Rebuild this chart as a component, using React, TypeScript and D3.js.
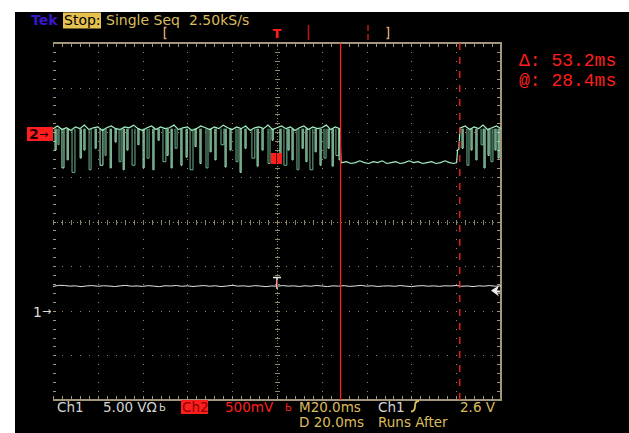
import React from 'react';
import * as d3 from 'd3';

// ---------- data ----------
const timeDomain: [number, number] = [-100, 100]; // ms, 20 ms/div
const divDomain: [number, number] = [-4, 4];
const ch1VoltsPerDiv = 5;
const ch2VoltsPerDiv = 0.5;
const ch1Position = -2; // divisions
const ch2Position = 2;
const cursorTime = 28.4; // ms
const cursorDelta = 53.2; // ms
const triggerLevel = 2.6; // V

const ch1Start = -100;
const ch1Step = 2.5;
const ch1Volts = [
  2.72, 2.85, 2.83, 2.76, 2.79, 2.7, 2.78, 2.82, 2.74, 2.8, 2.77, 2.71, 2.79, 2.84, 2.75, 2.78,
  2.73, 2.81, 2.76, 2.7, 2.8, 2.77, 2.83, 2.74, 2.79, 2.72, 2.78, 2.82, 2.75, 2.8, 2.71, 2.77,
  2.84, 2.76, 2.79, 2.73, 2.81, 2.77, 2.7, 2.78, 2.75, 2.82, 2.76, 2.79, 2.72, 2.8, 2.74, 2.83,
  2.77, 2.71, 2.79, 2.76, 2.81, 2.73, 2.78, 2.84, 2.75, 2.8, 2.72, 2.77, 2.79, 2.74, 2.82, 2.76,
  2.7, 2.78, 2.81, 2.75, 2.79, 2.73, 2.8, 2.77, 2.83, 2.74, 2.78, 2.71, 2.79, 2.76, 2.82, 2.75, 2.78,
];

const ch2HighAStart = -100;
const ch2Step = 2;
const ch2HighA = [
  0.04, 0.07, 0.03, 0.05, 0.02, 0.06, 0.04, 0.08, 0.03, 0.05, 0.06, 0.02, 0.05, 0.07, 0.04, 0.03,
  0.06, 0.05, 0.08, 0.04, 0.02, 0.05, 0.07, 0.03, 0.06, 0.04, 0.05, 0.08, 0.03, 0.05, 0.06, 0.02,
  0.04, 0.07, 0.05, 0.03, 0.06, 0.04, 0.08, 0.05, 0.03, 0.06, 0.04, 0.07, 0.02, 0.05, 0.06, 0.04,
  0.08, 0.03, 0.05, 0.07, 0.04, 0.06, 0.02, 0.05, 0.07, 0.03, 0.06, 0.04, 0.05, 0.08, 0.03, 0.06, 0.04,
];
const ch2LowStart = 29;
const ch2Low = [
  -0.34, -0.33, -0.35, -0.34, -0.32, -0.34, -0.35, -0.33, -0.34, -0.32, -0.35, -0.34, -0.33,
  -0.35, -0.34, -0.32, -0.34, -0.33, -0.35, -0.34, -0.33, -0.35, -0.34, -0.32, -0.34, -0.35,
];
const ch2Rise: [number, number][] = [
  [28.6, -0.34],
  [80.2, -0.34],
  [80.6, -0.2],
  [81.2, -0.19],
  [81.7, 0.05],
];
const ch2HighBStart = 82;
const ch2HighB = [0.05, 0.07, 0.03, 0.06, 0.04, 0.08, 0.03, 0.05, 0.07, 0.04];
const ch2SpikeBase = 0.04;
// [time ms, bottom V, width ms]
const ch2Spikes: [number, number, number][] = [
  [-99.1, -0.2, 0.5], [-97.8, -0.14, 0.5], [-96.0, -0.4, 0.9], [-93.7, -0.31, 0.5], [-91.5, -0.45, 1.3],
  [-87.9, -0.29, 0.5], [-86.2, -0.2, 0.5], [-83.9, -0.42, 0.9], [-81.2, -0.18, 0.5], [-79.0, -0.37, 1.3],
  [-76.8, -0.26, 0.5], [-74.5, -0.4, 0.5], [-72.3, -0.11, 0.5], [-70.5, -0.33, 0.9], [-68.7, -0.42, 0.5],
  [-67.0, -0.2, 0.5], [-64.7, -0.37, 1.3], [-62.1, -0.14, 0.5], [-59.8, -0.4, 0.5], [-58.0, -0.29, 0.9],
  [-55.4, -0.42, 0.5], [-53.1, -0.09, 0.5], [-50.9, -0.33, 1.3], [-49.1, -0.26, 0.5], [-47.3, -0.4, 0.5],
  [-45.5, -0.18, 0.9], [-42.9, -0.37, 0.5], [-40.6, -0.28, 0.5], [-38.8, -0.42, 1.3], [-36.6, -0.16, 0.5],
  [-34.4, -0.35, 0.5], [-31.7, -0.4, 0.9], [-29.9, -0.22, 0.5], [-27.7, -0.31, 0.5], [-25.0, -0.14, 1.3],
  [-23.2, -0.39, 0.5], [-21.0, -0.2, 0.5], [-18.3, -0.33, 0.9], [-16.5, -0.45, 0.5], [-14.3, -0.18, 0.5],
  [-11.2, -0.29, 1.3], [-8.9, -0.38, 0.5], [-6.7, -0.2, 0.5], [-4.0, -0.35, 0.9], [-2.2, -0.09, 0.5],
  [1.3, -0.26, 0.5], [3.1, -0.37, 1.3], [4.9, -0.2, 0.5], [6.7, -0.31, 0.5], [8.9, -0.42, 0.9],
  [11.2, -0.18, 0.5], [12.9, -0.33, 0.5], [14.7, -0.42, 1.3], [17.0, -0.22, 0.5], [19.2, -0.37, 0.5],
  [21.0, -0.29, 0.9], [22.8, -0.18, 0.5], [24.6, -0.38, 0.5], [26.3, -0.26, 1.3], [27.7, -0.31, 0.5],
  [82.6, -0.18, 0.5], [84.8, -0.37, 0.9], [86.6, -0.2, 0.5], [88.8, -0.31, 0.5], [91.1, -0.14, 0.9],
  [92.4, -0.4, 0.5], [94.2, -0.26, 0.5], [95.5, -0.33, 0.9], [97.3, -0.2, 0.5], [98.7, -0.29, 0.5],
];

const headerTexts = { tek: 'Tek', stop: 'Stop:', mode: 'Single Seq', rate: '2.50kS/s' };
const readoutDelta = 'Δ: 53.2ms';
const readoutAt = '@: 28.4ms';
const footerRow1 = { ch1: 'Ch1', ch1Scale: '5.00 VΩ', bw: 'Ь', ch2: 'Ch2', ch2Scale: '500mV', tb: 'M20.0ms', trigSrc: 'Ch1', trigLvl: '2.6 V' };
const footerRow2 = { delay: 'D 20.0ms', runs: 'Runs After' };

// ---------- chart ----------
const W = 629;
const H = 433;
const SANS = '"DejaVu Sans", sans-serif';
const MONO = '"Liberation Mono", "DejaVu Sans Mono", monospace';
const YEL = '#dcbc5c';
const GRID = '#8f8664';
const BORDER = '#a4967a';
const RED = '#ff1e1e';

export default function App() {
  const x = d3.scaleLinear().domain(timeDomain).range([53, 501]);
  const yDiv = d3.scaleLinear().domain(divDomain).range([400, 43]);
  const y1 = (v: number) => yDiv(v / ch1VoltsPerDiv + ch1Position);
  const y2 = (v: number) => yDiv(v / ch2VoltsPerDiv + ch2Position);

  const ch1Pts: [number, number][] = ch1Volts.map((v, i) => [ch1Start + i * ch1Step, v]);
  const ch2Pts: [number, number][] = [
    ...ch2HighA.map((v, i) => [ch2HighAStart + i * ch2Step, v] as [number, number]),
    ...ch2Rise.slice(0, 1),
    ...ch2Low.map((v, i) => [ch2LowStart + i * ch2Step, v] as [number, number]),
    ...ch2Rise.slice(1),
    ...ch2HighB.map((v, i) => [ch2HighBStart + i * ch2Step, v] as [number, number]),
  ];
  const line1 = d3.line<[number, number]>().x((d) => x(d[0])).y((d) => y1(d[1]));
  const line2 = d3.line<[number, number]>().x((d) => x(d[0])).y((d) => y2(d[1]));

  // graticule dots
  const dots: JSX.Element[] = [];
  const subT = d3.range(0, 51).map((k) => timeDomain[0] + k * 4);
  const subD = d3.range(0, 41).map((k) => divDomain[0] + k * 0.2);
  const majT = d3.range(0, 11).map((k) => timeDomain[0] + k * 20);
  const majD = d3.range(0, 9).map((k) => divDomain[0] + k);
  majT.forEach((t, i) => {
    if (t === 0) return;
    subD.forEach((dv, j) =>
      dots.push(<rect key={`v${i}-${j}`} x={Math.round(x(t))} y={Math.round(yDiv(dv))} width={1} height={1} fill={GRID} />)
    );
  });
  majD.forEach((dv, i) => {
    if (dv === 0) return;
    subT.forEach((t, j) =>
      dots.push(<rect key={`h${i}-${j}`} x={Math.round(x(t))} y={Math.round(yDiv(dv))} width={1} height={1} fill={GRID} />)
    );
  });
  // center axes with ticks
  const cx = Math.round(x(0));
  const cy = Math.round(yDiv(0));
  subD.forEach((dv, j) =>
    dots.push(<rect key={`cv${j}`} x={cx - 2} y={Math.round(yDiv(dv))} width={5} height={1} fill={GRID} />)
  );
  subT.forEach((t, j) =>
    dots.push(<rect key={`ch${j}`} x={Math.round(x(t))} y={cy - 2} width={1} height={5} fill={GRID} />)
  );
  // border ticks
  subT.forEach((t, j) => {
    dots.push(<rect key={`bt${j}`} x={Math.round(x(t))} y={44} width={1} height={3} fill={BORDER} />);
    dots.push(<rect key={`bb${j}`} x={Math.round(x(t))} y={396} width={1} height={3} fill={BORDER} />);
  });
  subD.forEach((dv, j) => {
    dots.push(<rect key={`bl${j}`} x={53} y={Math.round(yDiv(dv))} width={3} height={1} fill={BORDER} />);
    dots.push(<rect key={`br${j}`} x={497} y={Math.round(yDiv(dv))} width={3} height={1} fill={BORDER} />);
  });

  const spikePaths = ch2Spikes.map(([t, v, w], i) => {
    const xa = x(t);
    const xb = x(t + w);
    const yt = y2(ch2SpikeBase);
    const yb = y2(v);
    const d = `M${xa},${yt}V${yb}H${xb}V${yt}`;
    return <path key={`s${i}`} d={d} fill="none" stroke={i % 3 === 1 ? '#6fb48e' : '#a6f2c6'} strokeWidth={1} />;
  });

  const xCur = x(cursorTime);
  const xCur2 = x(cursorTime + cursorDelta);
  const yTrig = y1(triggerLevel);

  return (
    <svg width={W} height={H} style={{ position: 'absolute', left: 0, top: 0, background: '#fff' }}>
      <rect x={15} y={12} width={W - 15} height={H - 12} fill="#000" />
      <g shapeRendering="crispEdges">{dots}</g>
      {/* center vertical dotted */}
      <line x1={cx + 0.5} x2={cx + 0.5} y1={43} y2={400} stroke={GRID} strokeDasharray="1,2" />
      <line x1={53} x2={501} y1={cy + 0.5} y2={cy + 0.5} stroke={GRID} strokeDasharray="1,3" />
      {/* borders */}
      <g shapeRendering="crispEdges" stroke={BORDER} strokeWidth={2}>
        <line x1={53} x2={502} y1={43} y2={43} />
        <line x1={53} x2={502} y1={400} y2={400} />
        <line x1={501} x2={501} y1={42} y2={401} />
      </g>

      {/* Ch1 trace */}
      <path d={line1(ch1Pts) || ''} fill="none" stroke="#e4e4e4" strokeWidth={1} />
      {/* Ch2 trace */}
      <path d={line2(ch2Pts) || ''} fill="none" stroke="#a6f2c6" strokeWidth={1.2} />
      {spikePaths}

      {/* cursors */}
      <line x1={xCur} x2={xCur} y1={43} y2={400} stroke={RED} strokeWidth={1.3} />
      <line x1={xCur2} x2={xCur2} y1={43} y2={400} stroke={RED} strokeWidth={1.3} strokeDasharray="7,7" />

      {/* ch2 trigger marker square */}
      <rect x={271} y={153} width={11} height={11} fill={RED} />
      <line x1={276.5} x2={276.5} y1={153} y2={164} stroke="#400" strokeWidth={1} />
      {/* ch1 trigger T */}
      <line x1={273} x2={281} y1={277.5} y2={277.5} stroke="#e8e8e8" strokeWidth={1.5} />
      <line x1={277} x2={277} y1={277} y2={289} stroke="#e8e8e8" strokeWidth={1.5} />
      <line x1={277.5} x2={277.5} y1={280} y2={287} stroke="#d03030" strokeWidth={1} />
      {/* trigger level arrow */}
      <path d={`M${491},${yTrig + 3} L${499},${yTrig - 2} L${497},${yTrig + 3} L${500},${yTrig + 3} L${500},${yTrig + 5} L${497},${yTrig + 5} L${499},${yTrig + 9} Z`} fill="#eee" />

      {/* channel markers */}
      <rect x={27} y={127} width={26} height={14} fill={RED} />
      <text x={29} y={139} fontFamily={SANS} fontSize={14} fontWeight="bold" fill="#200">2</text>
      <text x={39} y={138} fontFamily={SANS} fontSize={11} fill="#200">→</text>
      <text x={33} y={317} fontFamily={SANS} fontSize={14} fill="#ddd">1</text>
      <text x={42} y={315} fontFamily={SANS} fontSize={11} fill="#ddd">→</text>

      {/* header */}
      <text x={31} y={24.5} fontFamily={SANS} fontSize={14} fontWeight="bold" fill="#3a16c8">{headerTexts.tek}</text>
      <rect x={63} y={12.5} width={38} height={16} fill="#e6c050" />
      <text x={64} y={24.5} fontFamily={SANS} fontSize={14} fill="#000">{headerTexts.stop}</text>
      <text x={106} y={24.5} fontFamily={SANS} fontSize={14} fill={YEL}>{headerTexts.mode}</text>
      <text x={189} y={24.5} fontFamily={SANS} fontSize={14} fill={YEL}>{headerTexts.rate}</text>

      {/* record bar markers */}
      <path d="M166.5,27.5 H164.5 V38.5 H166.5" fill="none" stroke="#d8a070" strokeWidth={1.5} />
      <path d="M386.5,27.5 H388.5 V38.5 H386.5" fill="none" stroke="#d8a070" strokeWidth={1.5} />
      <text x={277} y={38} textAnchor="middle" fontFamily={SANS} fontSize={13} fontWeight="bold" fill={RED}>T</text>
      <line x1={308.5} x2={308.5} y1={25} y2={40} stroke="#c41414" strokeWidth={1.5} />
      <line x1={368} x2={368} y1={25} y2={40} stroke="#c41414" strokeWidth={1.5} strokeDasharray="6,3" />

      {/* cursor readouts */}
      <text x={519} y={65.5} fontFamily={MONO} fontSize={18} fill={RED}>{readoutDelta}</text>
      <text x={519} y={85.5} fontFamily={MONO} fontSize={18} fill={RED}>{readoutAt}</text>

      {/* footer */}
      <g fontFamily={SANS} fontSize={13.5}>
        <text x={57} y={411.5} fill="#d4d4d4">{footerRow1.ch1}</text>
        <text x={103} y={411.5} fill="#d4d4d4">{footerRow1.ch1Scale}</text>
        <text x={159} y={410.5} fill="#d4d4d4" fontSize={10}>{footerRow1.bw}</text>
        <rect x={181} y={400} width={27} height={14} fill={RED} />
        <text x={182} y={411.5} fill="#8a0000">{footerRow1.ch2}</text>
        <text x={225} y={411.5} fill={RED}>{footerRow1.ch2Scale}</text>
        <text x={285} y={410.5} fill={RED} fontSize={10}>{footerRow1.bw}</text>
        <text x={299} y={411.5} fill={YEL}>{footerRow1.tb}</text>
        <text x={378} y={411.5} fill="#d4d4d4">{footerRow1.trigSrc}</text>
        <path d="M411,411.5 Q415,411.5 415,406 Q415,401 419,401" fill="none" stroke={YEL} strokeWidth={1.8} />
        <text x={460} y={411.5} fill={YEL}>{footerRow1.trigLvl}</text>
        <text x={299} y={427} fill={YEL}>{footerRow2.delay}</text>
        <text x={378} y={427} fill={YEL}>{footerRow2.runs}</text>
      </g>
    </svg>
  );
}
